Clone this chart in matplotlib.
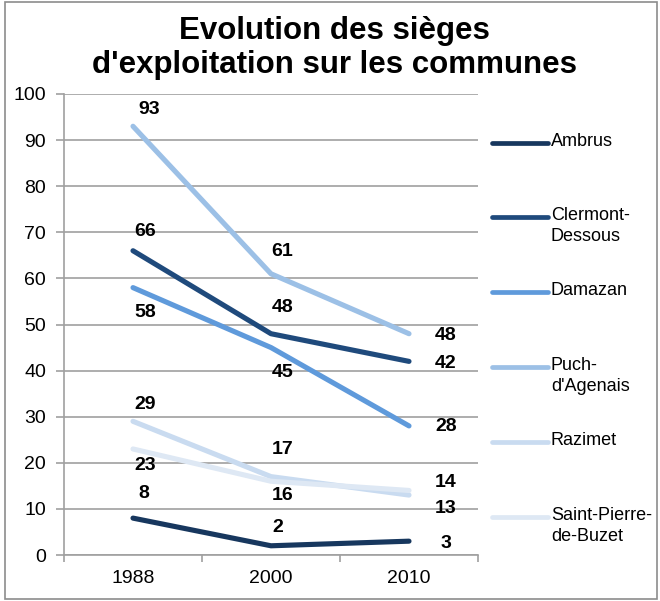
import matplotlib.pyplot as plt
from matplotlib.lines import Line2D
from matplotlib.patches import Rectangle
from matplotlib.ticker import FixedLocator, MultipleLocator

plt.rcParams['font.family'] = ['Liberation Sans', 'DejaVu Sans']

# data
years = ['1988', '2000', '2010']
communes = ['Ambrus', 'Clermont-\nDessous', 'Damazan', "Puch-\nd'Agenais",
            'Razimet', 'Saint-Pierre-\nde-Buzet']
ambrus = [8, 2, 3]
clermont = [66, 48, 42]
damazan = [58, 45, 28]
puch = [93, 61, 48]
razimet = [29, 17, 13]
saint_pierre = [23, 16, 14]
series = [ambrus, clermont, damazan, puch, razimet, saint_pierre]

colors = ['#17375E', '#1F4A7C', '#5F9ADB', '#9CC0E6', '#C9DBF0', '#DEE8F4']

# label offsets in pixels (dx, dy up), one per point
label_offsets = [
    [(11, 25), (7, 18), (37, -2)],
    [(12, 19), (12, 26), (37, -2)],
    [(12, -25), (12, -25), (37, -1)],
    [(16, 17), (11, 22), (37, -2)],
    [(12, 17), (12, 27), (37, -13)],
    [(12, -17), (12, -14), (37, 8)],
]

W, H = 660, 601
fig = plt.figure(figsize=(W / 100, H / 100), dpi=100)
ax = fig.add_axes([64 / W, 1 - 555 / H, (478 - 64) / W, (555 - 94) / H])

x = list(range(len(years)))
for vals, col, offs in zip(series, colors, label_offsets):
    ax.plot(x, vals, color=col, lw=3.7, solid_capstyle='round',
            solid_joinstyle='round', zorder=3)
    for xi, v, (dx, dy) in zip(x, vals, offs):
        ax.annotate(str(v), (xi, v), xytext=(dx, dy), textcoords='offset pixels',
                    ha='center', va='center', fontsize=14, fontweight='bold',
                    color='black', zorder=4)

ax.set_xlim(-0.5, len(years) - 0.5)
ax.set_ylim(0, 100)
ax.yaxis.set_major_locator(MultipleLocator(10))
ax.grid(axis='y', color='#A0A0A0', lw=1.2)
ax.set_axisbelow(True)

ax.set_xticks(x)
ax.set_xticklabels(years, fontsize=14)
ax.tick_params(axis='x', length=0, pad=11)
ax.xaxis.set_minor_locator(FixedLocator([i - 0.5 for i in range(len(years) + 1)]))
ax.tick_params(axis='x', which='minor', length=5, color='#A0A0A0', width=1.2)
ax.tick_params(axis='y', labelsize=14, length=6, color='#A0A0A0', width=1.2, pad=7)

for s in ['top', 'right']:
    ax.spines[s].set_visible(False)
for s in ['left', 'bottom']:
    ax.spines[s].set_color('#A0A0A0')
    ax.spines[s].set_linewidth(1.2)

# title
fig.text(334 / W, 1 - 48 / H, "Evolution des sièges\nd'exploitation sur les communes",
         ha='center', va='center', fontsize=22.5, fontweight='bold', linespacing=1.2)

# legend
leg_y = [143, 217, 292, 367, 442, 517]
for name, col, yy in zip(communes, colors, leg_y):
    fig.add_artist(Line2D([492 / W, 548 / W], [1 - yy / H, 1 - yy / H], color=col,
                          lw=3.4, solid_capstyle='round'))
    fig.text(551 / W, 1 - (yy - 10) / H, name, ha='left', va='top', fontsize=13,
             linespacing=1.28)

# outer frame
fig.add_artist(Rectangle((5 / W, 2 / H), 652 / W, 597 / H, fill=False,
                         edgecolor='#8C8C8C', lw=1.2, transform=fig.transFigure))

fig.savefig('out.png', dpi=100)
